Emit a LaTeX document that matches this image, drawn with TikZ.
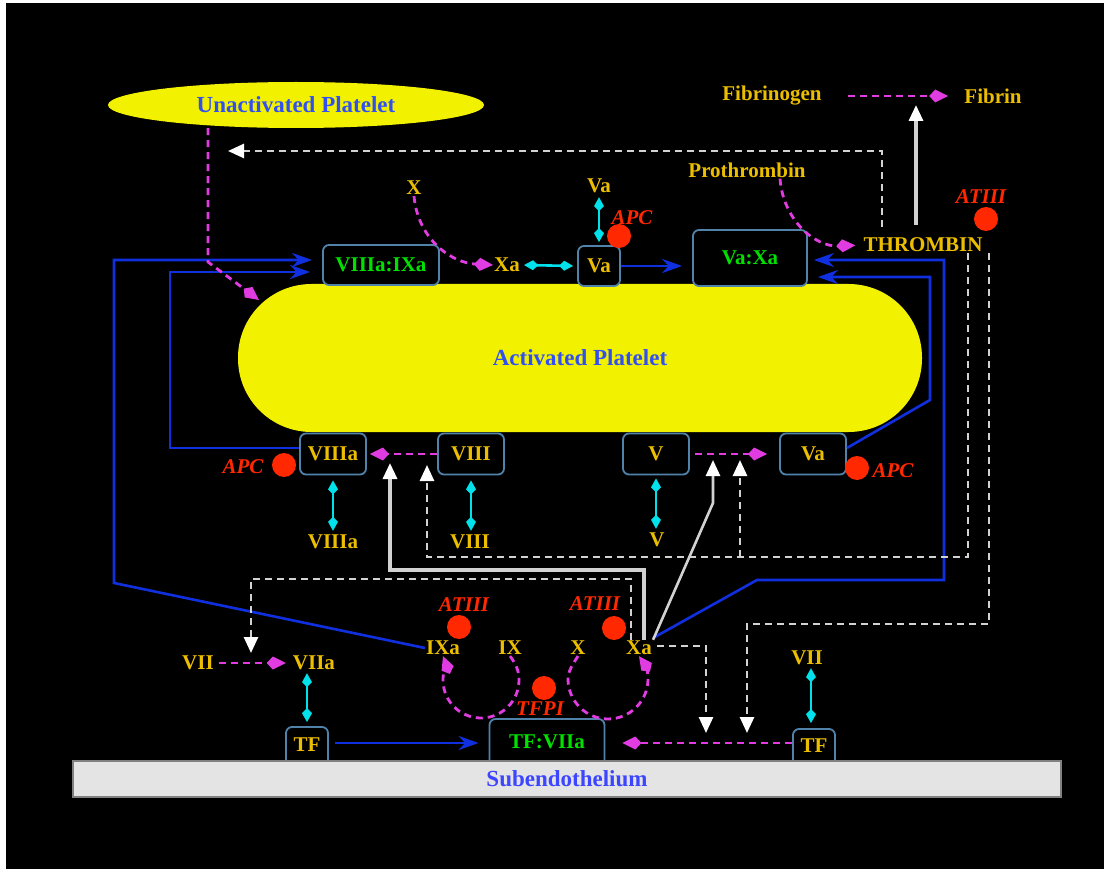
\documentclass[tikz,border=0pt]{standalone}
\usepackage{fontspec}
\setmainfont{Liberation Serif}
\usetikzlibrary{arrows.meta,shapes.geometric}
\definecolor{platy}{RGB}{242,242,0}
\definecolor{gold}{RGB}{236,190,0}
\definecolor{platblue}{RGB}{50,80,240}
\definecolor{cgreen}{RGB}{0,225,0}
\definecolor{inhred}{RGB}{255,40,0}
\definecolor{mag}{RGB}{225,60,225}
\definecolor{cyanc}{RGB}{0,225,235}
\definecolor{pathblue}{RGB}{16,48,224}
\definecolor{boxedge}{RGB}{80,130,170}
\definecolor{ltgray}{RGB}{210,210,210}
\definecolor{subgray}{RGB}{228,228,228}
\definecolor{subblue}{RGB}{60,70,255}

\begin{document}
\begin{tikzpicture}[x=1pt,y=-1pt,
  lblfont/.style={font=\fontsize{21}{24}\selectfont\bfseries},
  lbl/.style={lblfont, text=gold, inner sep=1pt},
  box/.style={draw=boxedge, line width=1.8pt, rounded corners=6pt, fill=black,
    inner sep=0pt, lblfont, text=gold},
  cpx/.style={box, text=cgreen},
  plt/.style={font=\fontsize{23}{26}\selectfont\bfseries, text=platblue},
  inh/.style={font=\fontsize{21}{24}\selectfont\bfseries\itshape, text=inhred, inner sep=1pt},
  inhdot/.style={circle, fill=inhred, minimum size=24pt, inner sep=0pt},
  magarr/.style={draw=mag, line width=2.8pt, dash pattern=on 7pt off 5pt,
    -{Kite[length=19pt,width=13pt,inset=6pt]}},
  cyanarr/.style={draw=cyanc, line width=2.6pt,
    {Kite[length=14pt,width=10pt,inset=5pt]}-{Kite[length=14pt,width=10pt,inset=5pt]}},
  bluearr/.style={draw=pathblue, line width=2.6pt, -{Stealth[length=20pt,width=14pt]}},
  whitesolid/.style={draw=ltgray, line width=3.2pt, -{Triangle[length=16pt,width=14pt,color=white]}},
  whitedash/.style={draw=ltgray, line width=2.6pt, dash pattern=on 7pt off 5pt,
    -{Triangle[length=16pt,width=14pt,color=white]}}
]
\useasboundingbox (0,0) rectangle (1104,869);
\fill[white] (0,0) rectangle (1104,869);
\fill[black] (6,3) rectangle (1104,869);

\node[ellipse, fill=platy, minimum width=376pt, minimum height=46pt, plt] (unact) at (296,105) {Unactivated Platelet};
\node[fill=platy, rounded corners=73.5pt, minimum width=684pt, minimum height=148pt, plt] (act) at (580,358) {Activated Platelet};

\node[cpx, minimum width=116pt, minimum height=40pt] (VIIIaIXa) at (381,265) {VIIIa:IXa};
\node[box, minimum width=42pt, minimum height=40pt] (Vat) at (599,266) {Va};
\node[cpx, minimum width=114pt, minimum height=56pt] (VaXa) at (750,258) {Va:Xa};
\node[box, minimum width=66pt, minimum height=41pt] (VIIIab) at (333,454) {VIIIa};
\node[box, minimum width=66pt, minimum height=41pt] (VIIIb) at (471,454) {VIII};
\node[box, minimum width=66pt, minimum height=41pt] (Vb) at (656,454) {V};
\node[box, minimum width=66pt, minimum height=41pt] (Vab) at (813,454) {Va};
\node[box, minimum width=42pt, minimum height=44pt, text depth=9pt] (TFl) at (307,749) {TF};
\node[cpx, minimum width=115pt, minimum height=52pt, text depth=6pt] (TFVIIa) at (547,745) {TF:VIIa};
\node[box, minimum width=42pt, minimum height=42pt, text depth=9pt] (TFr) at (814,750) {TF};

\node[draw=gray, line width=1.5pt, fill=subgray, minimum width=988pt, minimum height=36pt,
  font=\fontsize{23}{26}\selectfont\bfseries, text=subblue] (sub) at (567,779) {Subendothelium};

\node[lbl] (fibgen) at (772,96) {Fibrinogen};
\node[lbl] (fibrin) at (993,96) {Fibrin};
\node[lbl] (prothr) at (747,170) {Prothrombin};
\node[lbl] (thr) at (923,245) {THROMBIN};
\node[lbl] (Xt) at (414,188) {X};
\node[lbl] (Xat) at (507,265) {Xa};
\node[lbl] (Vatop) at (599,186) {Va};
\node[lbl] (VIIIal) at (333,542) {VIIIa};
\node[lbl] (VIIIl) at (470,542) {VIII};
\node[lbl] (Vl) at (657,540) {V};
\node[lbl] (VIIl) at (198,663) {VII};
\node[lbl] (VIIal) at (314,663) {VIIa};
\node[lbl] (IXa) at (443,648) {IXa};
\node[lbl] (IX) at (510,648) {IX};
\node[lbl] (Xb) at (578,648) {X};
\node[lbl] (Xab) at (639,648) {Xa};
\node[lbl] (VIIr) at (807,658) {VII};

\coordinate (actin) at (259,300);
\coordinate (uaact) at (228,151);
\coordinate (fibconv) at (916,105);
\coordinate (c8s) at (390,463);
\coordinate (c8d) at (427,465);
\coordinate (c5s) at (713,460);
\coordinate (c5d) at (740,460);
\coordinate (j5) at (740,557);
\coordinate (c7) at (251,653);
\coordinate (tfc1) at (706,733);
\coordinate (tfc2) at (747,733);

\draw[bluearr] (IXa.west) -- (114,583) -- (114,260) -- ([xshift=-10pt,yshift=5pt]VIIIaIXa.west);
\draw[bluearr] ([yshift=6pt]VIIIab.west) -- (170,448) -- (170,272) -- ([xshift=-12pt,yshift=-7pt]VIIIaIXa.west);
\draw[bluearr] ([yshift=10pt]Xab.east) -- (757,580) -- (944,580) -- (944,260) -- ([xshift=6pt,yshift=-2pt]VaXa.east);
\draw[bluearr] ([yshift=6pt]Vab.east) -- (930,400) -- (930,277) -- ([xshift=10pt,yshift=-19pt]VaXa.east);
\draw[bluearr, shorten >=10pt] (Vat.east) -- (Vat.east -| VaXa.west);
\draw[bluearr, shorten <=6pt, shorten >=10pt] ([yshift=6pt]TFl.east) -- ([yshift=2pt]TFVIIa.west);

\draw[whitesolid, shorten <=12pt] ([xshift=-7pt]thr.north) -- (fibconv);
\draw[whitesolid] ([xshift=5pt]Xab.north) -- (644,570) -- (390,570) -- (c8s);
\draw[whitesolid, line width=2.6pt] (Xab.north east) -- (713,503) -- (c5s);

\draw[whitedash, shorten <=10pt] ([xshift=-41pt]thr.north) -- (882,151) -- (uaact);
\draw[whitedash] ([xshift=45pt]thr.south) -- (968,557) -- (427,557) -- (c8d);
\draw[whitedash] (j5) -- (c5d);
\draw[whitedash] ([xshift=66pt]thr.south) -- (989,624) -- (747,624) -- (tfc2);
\draw[whitedash] ([xshift=-8pt]Xab.north) -- (631,579) -- (251,579) -- (c7);
\draw[whitedash, shorten <=4pt] ([yshift=2pt]Xab.east) -- (706,646) -- (tfc1);

\draw[magarr] ([xshift=-88pt]unact.south) -- (208,262) -- (actin);
\draw[magarr] (Xt.south) .. controls (418,240) and (452,263) .. (Xat.west);
\draw[magarr, shorten <=25pt, shorten >=15pt] (fibgen.east) -- (fibrin.west);
\draw[magarr, shorten >=7pt] ([xshift=33pt]prothr.south) .. controls (783,220) and (815,247) .. (thr.west);
\draw[magarr, shorten >=3pt] (VIIIb.west) -- (VIIIab.east);
\draw[magarr, shorten <=5pt, shorten >=12pt] (Vb.east) -- (Vab.west);
\draw[magarr, shorten <=4pt, shorten >=6pt] (VIIl.east) -- (VIIal.west);
\draw[magarr, shorten >=17pt] ([yshift=7pt]TFr.west) -- ([yshift=2pt]TFVIIa.east);
\draw[magarr] (IX.south) .. controls (516,664) and (519,671) .. (519,680)
  .. controls (519,701) and (502,718) .. (481,718)
  .. controls (460,718) and (443,701) .. (443,680)
  .. controls (443,671) and (446,664) .. (IXa.south);
\draw[magarr] (Xb.south) .. controls (573,664) and (568,671) .. (568,679)
  .. controls (568,701) and (586,719) .. (608,719)
  .. controls (630,719) and (648,701) .. (648,679)
  .. controls (648,672) and (646,666) .. (Xab.south);

\draw[cyanarr, shorten <=3pt, shorten >=4pt] (Xat.east) -- (Vat.west);
\draw[cyanarr, shorten <=3pt, shorten >=3pt] (Vat.north) -- (Vatop.south);
\draw[cyanarr, shorten <=5pt, shorten >=3pt] (VIIIab.south) -- (VIIIal.north);
\draw[cyanarr, shorten <=5pt, shorten >=3pt] (VIIIb.south) -- (VIIIb.south |- VIIIl.north);
\draw[cyanarr, shorten <=3pt, shorten >=3pt] (Vb.south) -- (Vb.south |- Vl.north);
\draw[cyanarr, shorten <=2pt, shorten >=4pt] (TFl.north |- VIIal.south) -- (TFl.north);
\draw[cyanarr, shorten <=2pt, shorten >=5pt] ([xshift=4pt]VIIr.south) -- ([xshift=4pt]VIIr.south |- TFr.north);

\node[inhdot] (apc1d) at (619,236) {};
\node[inh] (apc1) at (632,218) {APC};
\node[inhdot] (at1d) at (986,219) {};
\node[inh] (at1) at (981,197) {ATIII};
\node[inhdot] (apc2d) at (284,465) {};
\node[inh] (apc2) at (243,467) {APC};
\node[inhdot] (apc3d) at (857,468) {};
\node[inh] (apc3) at (893,471) {APC};
\node[inhdot] (at2d) at (459,627) {};
\node[inh] (at2) at (464,605) {ATIII};
\node[inhdot] (at3d) at (614,628) {};
\node[inh] (at3) at (595,604) {ATIII};
\node[inhdot] (tfpid) at (544,688) {};
\node[inh] (tfpi) at (540,709) {TFPI};
\end{tikzpicture}
\end{document}
